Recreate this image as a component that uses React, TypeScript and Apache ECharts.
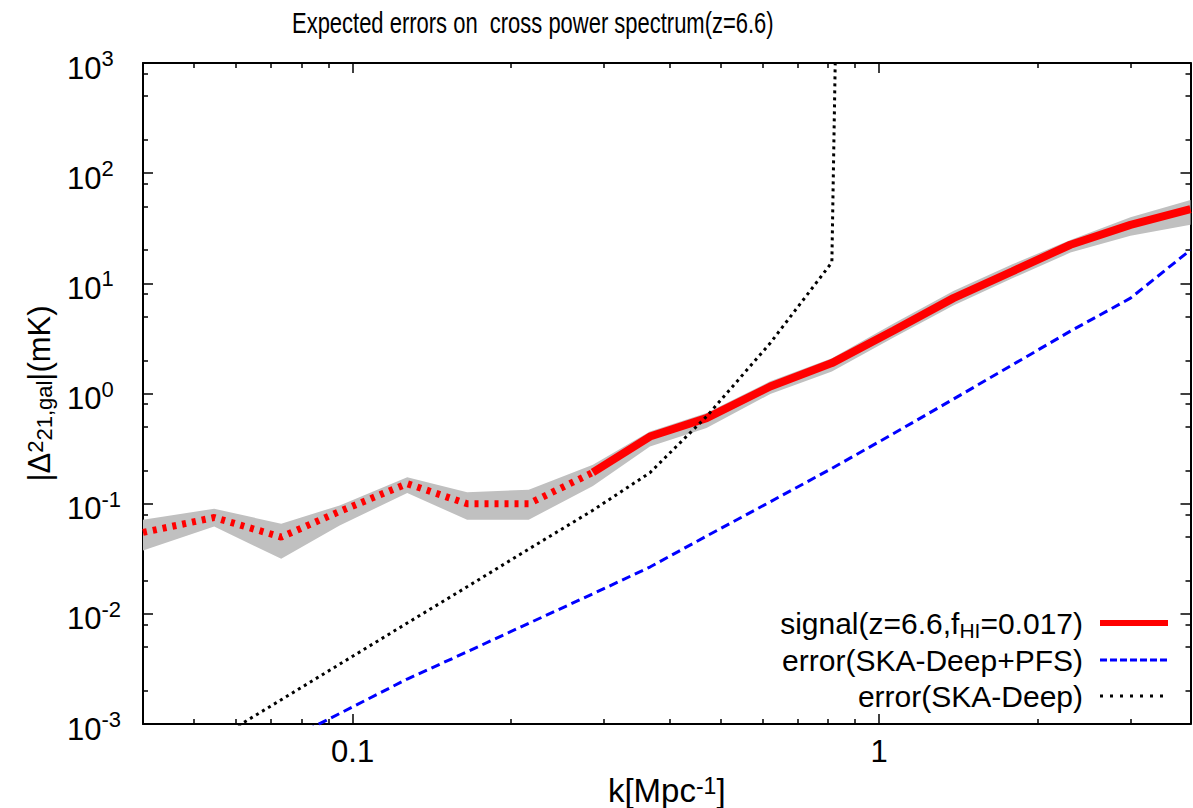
import React, { useEffect, useRef } from "react";
import * as echarts from "echarts";

// ---------- data ----------
const kValues = [0.04, 0.0546, 0.0732, 0.0945, 0.127, 0.165, 0.216, 0.286, 0.367, 0.47, 0.621, 0.813, 1.063, 1.383, 1.79, 2.307, 3.0, 3.9];
const signal = [0.0548, 0.0749, 0.0498, 0.085, 0.152, 0.0998, 0.0998, 0.192, 0.407, 0.598, 1.157, 1.888, 3.71, 7.34, 12.85, 22.4, 33.96, 47.1];
const signalUpper = [0.0714, 0.0899, 0.0657, 0.0964, 0.174, 0.127, 0.134, 0.225, 0.453, 0.664, 1.29, 2.09, 4.29, 8.5, 14.9, 24.8, 39.9, 57.1];
const signalLower = [0.0376, 0.0621, 0.0316, 0.0634, 0.125, 0.0714, 0.0714, 0.145, 0.33, 0.485, 0.99, 1.58, 3.2, 6.3, 11.1, 19.0, 27.0, 34.0];
const dottedLastIndex = 7; // signal is drawn dotted up to k = 0.286

const kPfs = [0.0732, 0.0945, 0.127, 0.165, 0.216, 0.286, 0.367, 0.47, 0.621, 0.813, 1.063, 1.383, 1.79, 2.307, 3.0, 3.9];
const errPfs = [6.7e-4, 1.245e-3, 2.56e-3, 4.52e-3, 8.2e-3, 0.0152, 0.0266, 0.0508, 0.104, 0.209, 0.431, 0.889, 1.82, 3.68, 7.34, 20.1];

const kDeep = [0.0546, 0.0732, 0.0945, 0.127, 0.165, 0.216, 0.286, 0.367, 0.47, 0.621, 0.813, 0.825];
const errDeep = [7.1e-4, 1.66e-3, 3.49e-3, 8.25e-3, 0.0176, 0.0387, 0.0871, 0.191, 0.618, 2.87, 15.5, 1000];

const seriesNames = ["signal", "pfs", "deep"];
const legendLabels = ["signal(z=6.6,f{sub|HI}=0.017)", "error(SKA-Deep+PFS)", "error(SKA-Deep)"];

const titleText = "Expected errors on  cross power spectrum(z=6.6)";
const xName = "k[Mpc{sup|-1}]";
const yName = "|Δ{sup|2}{sub|21,gal}|(mK)";

const X_MIN = 0.04;
const X_MAX = 3.9;
const Y_MIN = 1e-3;
const Y_MAX = 1e3;
const xMajorTicks = [0.1, 1];
const xTickLabels = ["0.1", "1"];
const xMinorTicks = [0.05, 0.06, 0.07, 0.08, 0.09, 0.2, 0.3, 0.4, 0.5, 0.6, 0.7, 0.8, 0.9, 2, 3];
const yMajorExponents = [-3, -2, -1, 0, 1, 2, 3];
const yMinorMultipliers = [2, 5, 8];

// ---------- styles ----------
const FONT = "'Liberation Sans', Arial, Helvetica, sans-serif";
const lg = Math.log10;

const yMinorLogs: number[] = [];
yMajorExponents.slice(0, -1).forEach((e) => yMinorMultipliers.forEach((m) => yMinorLogs.push(e + lg(m))));

const frameLine = { show: true, onZero: false, lineStyle: { color: "#000", width: 2 } };
const noLine = { show: false, onZero: false };
const tickStyle = { color: "#000", width: 1.5 };

function xAux(position: string, values: number[], len: number, withLine: boolean, labels: boolean, extra: any = {}) {
  return {
    type: "value",
    position,
    min: lg(X_MIN),
    max: lg(X_MAX),
    axisLine: withLine ? frameLine : noLine,
    axisTick: { show: true, inside: true, length: len, customValues: values.map(lg), lineStyle: tickStyle },
    axisLabel: labels
      ? {
          show: true,
          customValues: xMajorTicks.map(lg),
          formatter: (v: number) => {
            let best = 0;
            xMajorTicks.forEach((t, i) => {
              if (Math.abs(lg(t) - v) < Math.abs(lg(xMajorTicks[best]) - v)) best = i;
            });
            return xTickLabels[best];
          },
          fontFamily: FONT,
          fontSize: 31,
          color: "#000",
          margin: 12,
        }
      : { show: false },
    splitLine: { show: false },
    ...extra,
  };
}

function yAux(position: string, values: number[], len: number, withLine: boolean, labels: boolean, extra: any = {}) {
  return {
    type: "value",
    position,
    min: lg(Y_MIN),
    max: lg(Y_MAX),
    axisLine: withLine ? frameLine : noLine,
    axisTick: { show: true, inside: true, length: len, customValues: values, lineStyle: tickStyle },
    axisLabel: labels
      ? {
          show: true,
          customValues: yMajorExponents,
          formatter: (v: number) => `{b|10}{s|${Math.round(v)}}`,
          align: "left",
          margin: 76,
          rich: {
            b: { fontFamily: FONT, fontSize: 31, lineHeight: 31, padding: [10, 0, 0, 0], color: "#000" },
            s: { fontFamily: FONT, fontSize: 22, lineHeight: 22, verticalAlign: "top", color: "#000" },
          },
        }
      : { show: false },
    splitLine: { show: false },
    ...extra,
  };
}

// legend icons (solid bar, dashes, dots) as paths
const legendIcons = [
  "path://M0,0h68v6h-68z",
  "path://M0,0h7v3h-7zM10,0h7v3h-7zM20,0h7v3h-7zM30,0h7v3h-7zM40,0h7v3h-7zM50,0h7v3h-7zM60,0h7v3h-7z",
  "path://M0,0h3v3h-3zM10,0h3v3h-3zM20,0h3v3h-3zM30,0h3v3h-3zM40,0h3v3h-3zM50,0h3v3h-3zM60,0h3v3h-3z",
];
const legendIconHeights = [6, 3, 3];
const legendIconWidths = [68, 67, 63];
const legendRights = [25, 26, 30];
const legendTops = [605, 642, 678];

const legendText = {
  fontFamily: FONT,
  fontSize: 30,
  lineHeight: 36,
  color: "#000",
  padding: [0, 12, 0, 0],
  rich: {
    sub: { fontFamily: FONT, fontSize: 21, lineHeight: 21, verticalAlign: "bottom", color: "#000" },
  },
};

const option: any = {
  animation: false,
  backgroundColor: "#fff",
  graphic: [
    {
      type: "text",
      x: 292,
      y: 8,
      scaleX: 0.745,
      style: { text: titleText, font: `29.5px ${FONT}`, fill: "#000", textVerticalAlign: "top" },
    },
  ],
  grid: { left: 143, right: 2.5, top: 63, bottom: 84, containLabel: false, outerBoundsMode: "none" },
  legend: seriesNames.map((n, i) => ({
    orient: "vertical",
    align: "right",
    right: legendRights[i],
    top: legendTops[i],
    itemWidth: legendIconWidths[i],
    itemHeight: legendIconHeights[i],
    padding: 0,
    selectedMode: false,
    data: [{ name: n, icon: legendIcons[i] }],
    formatter: () => legendLabels[i],
    textStyle: legendText,
  })),
  xAxis: [
    { type: "log", logBase: 10, min: X_MIN, max: X_MAX, show: false },
    xAux("bottom", xMajorTicks, 10, true, true),
    xAux("bottom", xMinorTicks, 5, false, false, {
      name: xName,
      nameLocation: "middle",
      nameGap: 50,
      nameTextStyle: {
        fontFamily: FONT,
        fontSize: 33,
        color: "#000",
        rich: { sup: { fontFamily: FONT, fontSize: 23, lineHeight: 23, verticalAlign: "top", color: "#000" } },
      },
    }),
    xAux("top", xMajorTicks, 10, true, false),
    xAux("top", xMinorTicks, 5, false, false),
  ],
  yAxis: [
    { type: "log", logBase: 10, min: Y_MIN, max: Y_MAX, show: false },
    yAux("left", yMajorExponents, 10, true, true),
    yAux("left", yMinorLogs, 5, false, false, {
      name: yName,
      nameLocation: "middle",
      nameRotate: 90,
      nameGap: 88,
      nameTextStyle: {
        fontFamily: FONT,
        fontSize: 31,
        color: "#000",
        rich: {
          sup: { fontFamily: FONT, fontSize: 22, lineHeight: 22, verticalAlign: "top", color: "#000" },
          sub: { fontFamily: FONT, fontSize: 22, lineHeight: 22, verticalAlign: "bottom", color: "#000" },
        },
      },
    }),
    yAux("right", yMajorExponents, 10, true, false),
    yAux("right", yMinorLogs, 5, false, false),
  ],
  series: [
    {
      name: "band",
      type: "custom",
      xAxisIndex: 0,
      yAxisIndex: 0,
      silent: true,
      clip: true,
      data: kValues.map((k, i) => [k, signalLower[i], signalUpper[i]]),
      encode: { x: 0, y: [1, 2] },
      renderItem: (params: any, api: any) => {
        if (params.dataIndex !== 0) return null;
        const up = kValues.map((k, i) => api.coord([k, signalUpper[i]]));
        const lo = kValues.map((k, i) => api.coord([k, signalLower[i]])).reverse();
        return { type: "polygon", shape: { points: up.concat(lo) }, style: { fill: "#c0c0c0" } };
      },
    },
    {
      name: "signal-dotted",
      type: "line",
      xAxisIndex: 0,
      yAxisIndex: 0,
      symbol: "none",
      lineStyle: { color: "#ff0000", width: 7, type: [4, 6], cap: "butt" },
      data: kValues.slice(0, dottedLastIndex + 1).map((k, i) => [k, signal[i]]),
    },
    {
      name: "signal",
      type: "line",
      xAxisIndex: 0,
      yAxisIndex: 0,
      symbol: "none",
      itemStyle: { color: "#ff0000" },
      lineStyle: { color: "#ff0000", width: 8 },
      data: kValues.slice(dottedLastIndex).map((k, i) => [k, signal[i + dottedLastIndex]]),
    },
    {
      name: "pfs",
      type: "line",
      xAxisIndex: 0,
      yAxisIndex: 0,
      symbol: "none",
      itemStyle: { color: "#0000ff" },
      lineStyle: { color: "#0000ff", width: 3, type: [9, 5] },
      data: kPfs.map((k, i) => [k, errPfs[i]]),
    },
    {
      name: "deep",
      type: "line",
      xAxisIndex: 0,
      yAxisIndex: 0,
      symbol: "none",
      itemStyle: { color: "#000" },
      lineStyle: { color: "#000", width: 3, type: [3, 4] },
      data: kDeep.map((k, i) => [k, errDeep[i]]),
    },
  ],
};

export default function App() {
  const ref = useRef<HTMLDivElement>(null);
  useEffect(() => {
    const chart = echarts.init(ref.current!, null, { renderer: "svg" });
    chart.setOption(option);
    return () => chart.dispose();
  }, []);
  return (
    <div
      ref={ref}
      style={{ position: "fixed", left: 0, top: 0, width: 1193, height: 808, background: "#fff" }}
    />
  );
}
